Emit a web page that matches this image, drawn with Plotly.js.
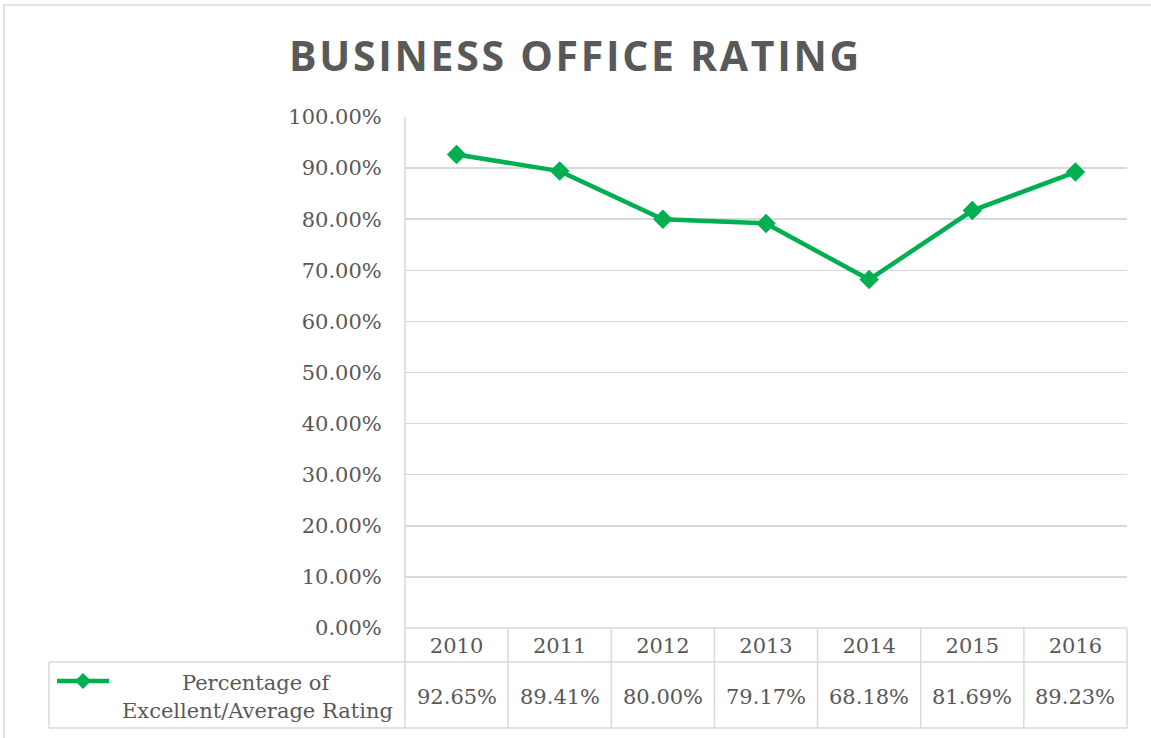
<!DOCTYPE html>
<html>
<head>
<meta charset="utf-8">
<script src="https://cdn.plot.ly/plotly-3.0.1.min.js"></script>
<style>html,body{margin:0;padding:0;background:#fff;}#chart{width:1151px;height:738px;}</style>
</head>
<body>
<div id="chart"></div>
<script>
const years = ['2010','2011','2012','2013','2014','2015','2016'];
const ratings = [92.65, 89.41, 80.00, 79.17, 68.18, 81.69, 89.23];
const seriesName = 'Percentage of<br>Excellent/Average Rating';
const chartTitle = 'BUSINESS OFFICE RATING';

const W = 1151, H = 738;
const L = 405, R = 1127, T = 117, B = 628;
const pw = R - L, ph = B - T;
const px = x => (x - L) / pw;
const py = y => (B - y) / ph;
const grid = '#d9d9d9';
const txt = '#595959';
const green = '#00B050';
const serif = 'DejaVu Serif, serif';
const fs = 21;

const shapes = [];
function line(x0, y0, x1, y1, color, w) {
  shapes.push({type:'line', xref:'paper', yref:'paper', x0:px(x0), y0:py(y0), x1:px(x1), y1:py(y1),
    line:{color:color||grid, width:w||1.5}, layer:'above'});
}
// outer frame
shapes.push({type:'rect', xref:'paper', yref:'paper', x0:px(4), y0:py(5), x1:px(1160), y1:py(750),
  line:{color:grid, width:1.5}, layer:'below'});
// table lines
line(L, T, L, 728);
line(L, B, R, B);
line(R, B, R, 728);
line(49, 662, R, 662);
line(49, 728, R, 728);
line(49, 662, 49, 728);
years.forEach((y, i) => {
  if (i > 0) shapes.push({type:'line', xref:'x', yref:'paper', x0:i-0.5, x1:i-0.5, y0:py(628), y1:py(728),
    line:{color:grid, width:1.5}, layer:'above'});
});
// legend key
line(57, 681, 109, 681, green, 4.5);
shapes.push({type:'path', xref:'paper', yref:'paper', layer:'above',
  path:`M ${px(83)} ${py(673)} L ${px(91)} ${py(681)} L ${px(83)} ${py(689)} L ${px(75)} ${py(681)} Z`,
  fillcolor:green, line:{color:green, width:0}});

const annotations = [];
const nameLines = seriesName.split('<br>');
nameLines.forEach((t, k) => {
  annotations.push({xref:'paper', yref:'paper', x:px(257), y:py(683 + 28*k), text:t, showarrow:false,
    font:{family:serif, size:fs, color:txt}, xanchor:'center', yanchor:'middle'});
});
ratings.forEach((v, i) => {
  annotations.push({xref:'x', yref:'paper', x:i, y:py(697), text:v.toFixed(2)+'%', showarrow:false,
    font:{family:serif, size:fs, color:txt}, xanchor:'center', yanchor:'middle'});
});

const data = [{
  x: years.map((y, i) => i), y: ratings, type:'scatter', mode:'lines+markers', name: seriesName,
  line:{color:green, width:4.5}, marker:{symbol:'diamond', size:15, color:green}
}];

const layout = {
  width: W, height: H,
  margin:{l:L, r:W-R, t:T, b:H-B, pad:0},
  paper_bgcolor:'#fff', plot_bgcolor:'#fff',
  showlegend:false,
  title:{text:chartTitle, x:0.5, xanchor:'center', y:1-57/H, yanchor:'middle',
    font:{family:'Open Sans, sans-serif', size:41, color:txt, weight:700}},
  xaxis:{range:[-0.5, 6.5], tickmode:'array', tickvals:years.map((y,i)=>i), ticktext:years,
    showgrid:false, zeroline:false, showline:false, ticks:'', ticklabelstandoff:3,
    tickfont:{family:serif, size:fs, color:txt}, fixedrange:true},
  yaxis:{range:[0,100], dtick:10, tickformat:'.2f', ticksuffix:'%', showgrid:true, gridcolor:grid, gridwidth:1.5,
    zeroline:false, showline:false, ticks:'outside', ticklen:18, tickcolor:'rgba(0,0,0,0)',
    tickfont:{family:serif, size:fs, color:txt}, fixedrange:true},
  shapes: shapes,
  annotations: annotations
};
Plotly.newPlot('chart', data, layout, {displayModeBar:false, staticPlot:true}).then(gd => {
  const t = gd.querySelector('.gtitle');
  if (t) { t.style.letterSpacing = '2.7px'; }
});
</script>
</body>
</html>
